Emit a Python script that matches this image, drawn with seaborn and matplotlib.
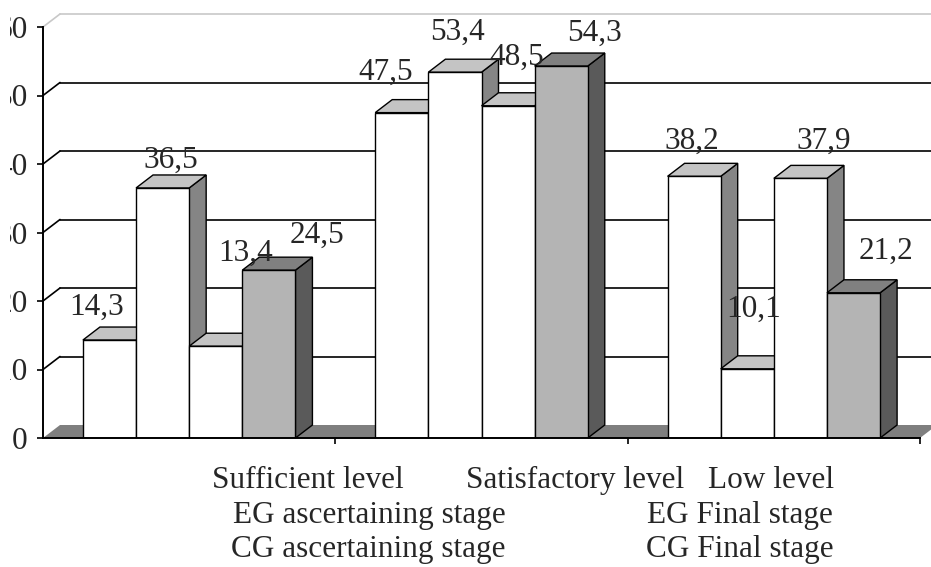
import pandas as pd
import matplotlib
matplotlib.use("Agg")
import matplotlib.pyplot as plt
from matplotlib.patches import Polygon, Rectangle
import seaborn as sns

# 数据
levels = ["Sufficient level", "Satisfactory level", "Low level"]
stages = ["EG ascertaining stage", "EG Final stage", "CG ascertaining stage", "CG Final stage"]
eg_ascertaining = [14.3, 47.5, 38.2]
eg_final = [36.5, 53.4, 10.1]
cg_ascertaining = [13.4, 48.5, 37.9]
cg_final = [24.5, 54.3, 21.2]
y_ticks = [0, 10, 20, 30, 40, 50, 60]

# 数值标签相对柱顶的偏移 (像素), 按柱子从左到右
label_offsets = [(-13, -33), (8, -28), (30, -93), (48, -35),
                 (-16, -40), (3, -40), (9, -48), (33, -33),
                 (-2, -35), (6, -59), (23, -37), (32, -41)]

W, H = 931, 567
DEPTH_PX = (17, 13)
FONT = ["Liberation Serif", "DejaVu Serif"]
FS = 22.5


def build_frame():
    rows = []
    for stage, vals in zip(stages, [eg_ascertaining, eg_final, cg_ascertaining, cg_final]):
        for lvl, v in zip(levels, vals):
            rows.append({"level": lvl, "stage": stage, "value": v})
    return pd.DataFrame(rows)


def main():
    df = build_frame()
    sns.set_theme(style="white")
    plt.rcParams["font.family"] = FONT

    fig = plt.figure(figsize=(W / 100, H / 100), dpi=100)
    ax = fig.add_axes([43 / W, (H - 438) / H, (920 - 43) / W, (438 - 27) / H])

    palette = {stages[0]: "white", stages[1]: "white", stages[2]: "white", stages[3]: "#b4b4b4"}
    sns.barplot(data=df, x="level", y="value", hue="stage", order=levels, hue_order=stages,
                palette=palette, saturation=1, width=0.727, edgecolor="black", linewidth=1.0,
                legend=False, ax=ax)
    bars = sorted(ax.patches, key=lambda p: p.get_x())

    ax.set_xlim(-0.5, 2.5)
    ax.set_ylim(0, 60)
    # 深度换算为数据坐标
    ddx = DEPTH_PX[0] / ((920 - 43) / 3)
    ddy = DEPTH_PX[1] / ((438 - 27) / 60)

    # 背景墙网格线
    for v in y_ticks[1:]:
        col = "black" if v < 60 else "#c8c8c8"
        ax.plot([-0.5, -0.5 + ddx], [v, v + ddy], color=col, lw=1.2, zorder=0.5, clip_on=False)
        ax.plot([-0.5 + ddx, 2.7], [v + ddy, v + ddy], color=col, lw=1.2, zorder=0.5, clip_on=False)

    # 底面
    floor = Polygon([(-0.5, 0), (2.5, 0), (2.5 + ddx, ddy), (-0.5 + ddx, ddy)],
                    closed=True, facecolor="#7f7f7f", edgecolor="none", zorder=1, clip_on=False)
    ax.add_patch(floor)

    # 立体柱子
    for i, p in enumerate(bars):
        x0, w, h = p.get_x(), p.get_width(), p.get_height()
        gray = p.get_facecolor()[0] < 0.9
        top_c = "#808080" if gray else "#c4c4c4"
        side_c = "#5a5a5a" if gray else "#858585"
        z = 3 + i * 0.1
        side = Polygon([(x0 + w, 0), (x0 + w + ddx, ddy), (x0 + w + ddx, h + ddy), (x0 + w, h)],
                       closed=True, facecolor=side_c, edgecolor="black", lw=1.0, zorder=z, clip_on=False)
        top = Polygon([(x0, h), (x0 + w, h), (x0 + w + ddx, h + ddy), (x0 + ddx, h + ddy)],
                      closed=True, facecolor=top_c, edgecolor="black", lw=1.0, zorder=z + 0.01, clip_on=False)
        ax.add_patch(side)
        ax.add_patch(top)
        p.set_zorder(z + 0.02)

        dx, dy = label_offsets[i]
        ax.annotate(f"{h:.1f}".replace(".", ","), xy=(x0 + w / 2, h),
                    xytext=(dx * 0.72, -dy * 0.72), textcoords="offset points",
                    ha="center", va="center", fontsize=FS, family=FONT, zorder=10)

    # 坐标轴
    for s in ["top", "right"]:
        ax.spines[s].set_visible(False)
    for s in ["left", "bottom"]:
        ax.spines[s].set_color("black")
        ax.spines[s].set_linewidth(1.4)
        ax.spines[s].set_zorder(20)
    ax.set_yticks(y_ticks)
    ax.set_yticklabels([str(t) for t in y_ticks], fontsize=FS, family=FONT)
    ax.set_xticks([0.5, 1.5, 2.5])
    ax.set_xticklabels([])
    ax.tick_params(axis="both", direction="out", length=4, width=1.2, color="black",
                   left=True, bottom=True)
    ax.tick_params(axis="y", pad=7)
    ax.set_xlabel("")
    ax.set_ylabel("")
    ax.grid(False)
    ax.patch.set_alpha(0)

    # 原图左侧被裁切, 只露出刻度的末位数字
    fig.patches.append(Rectangle((0, 0), 10 / W, 1, transform=fig.transFigure,
                                 facecolor="white", edgecolor="none", zorder=50))

    # 底部文字
    bottom_texts = [("Sufficient level", 308, 480), ("Satisfactory level", 575, 480), ("Low level", 771, 480),
                    ("EG ascertaining stage", 369, 515), ("EG Final stage", 740, 515),
                    ("CG ascertaining stage", 368, 550), ("CG Final stage", 740, 550)]
    for txt, px, py in bottom_texts:
        fig.text(px / W, 1 - py / H, txt, ha="center", va="center", fontsize=FS, family=FONT)

    fig.savefig("out.png", dpi=100, facecolor="white")
    plt.close(fig)


if __name__ == "__main__":
    main()
